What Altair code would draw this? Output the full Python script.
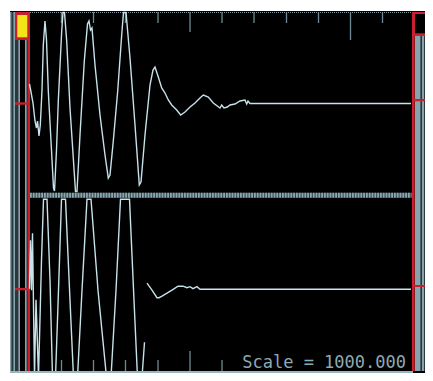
import altair as alt
import pandas as pd

# ---------------- data ----------------
# channel 1 (upper trace): time (ms after the left marker) and amplitude
TOP_T = [0.5, 2, 4, 6, 7.5, 8.5, 10, 11.3, 13, 14.3,
         16, 17.5, 19.3, 22, 24.5, 25.5, 27.5, 29.3, 32.7, 34,
         35.5, 37.7, 41, 44.3, 46.5, 48, 51, 55.3, 58.5, 60,
         61.5, 63, 66, 71, 76, 79.3, 81, 84.3, 88.7, 92.7,
         94.5, 97, 101, 106, 110.3, 112, 116, 121, 124, 126,
         129.3, 132.7, 136, 139.3, 142.7, 147.7, 151.7, 156, 161, 166,
         171, 174.3, 179.3, 184.3, 191, 192.7, 195, 198.3, 201, 206,
         211, 216, 217.7, 219, 221, 382]
TOP_A = [19.5, 11.5, 0.5, -17.5, -24.5, -17.5, -32.5, -21.5, 13.5, 58.5,
         82.5, 63.5, 12.5, -37.5, -84.5, -87.5, -46.5, 2.5, 72.5, 91,
         91, 62.5, -4.5, -54.5, -88, -88, -31.5, 42.5, 79.5, 82.5,
         73.5, 75.5, 38.5, -11.5, -51.5, -74.5, -71.5, -37.5, 12.5, 68.5,
         91, 91, 45.5, -21.5, -81.5, -78.5, -31.5, 18.5, 33.5, 36.5,
         26.5, 15.5, 10.5, 3.5, -1.5, -6.5, -11.5, -8.5, -3.5, 0.5,
         5.5, 8.5, 6.5, 0.5, -4.5, -1.5, -4.5, -3.5, -1.5, -0.5,
         2.5, 3.5, -0.5, 2.5, 0, 0]

# channel 2 (lower trace); segment 1 starts after a gap in the trace
BOT_T = [0.5, 1.5, 2.5, 3.5, 5.5, 7, 8, 9.5, 12.5, 14.5,
         18, 21, 23.5, 26.5, 29.5, 32.5, 36.5, 41, 44.5, 48.5,
         53, 58, 62, 69, 77.5, 82, 87, 91.5, 100.5, 105,
         108.5, 113, 115.5,
         118, 123, 128, 130, 133, 138, 143, 149, 154, 158,
         161, 164, 168, 171, 382]
BOT_A = [0, 48.5, -1.5, 55.5, -89, -11, -41, -88.5, 28.5, 89.5,
         89.5, 8.5, -88.5, -88.5, -1.5, 89.5, 89.5, -11.5, -88.5, -88.5,
         -1.5, 89.5, 89.5, -1.5, -88.5, -88.5, -1.5, 89.5, 89.5, -11.5,
         -88.5, -88.5, -53.5,
         5.5, -1.5, -9, -9, -7.5, -4.5, -1.5, 2.5, 2.5, 1,
         2, 0, 2, -0.5, -0.5]
BOT_SEG = [0] * 33 + [1] * 15

CH_BASE = {"ch1": 91.5, "ch2": -93.7}  # channel zero levels

TICK_T = [32.5, 64.5, 96.5, 129, 161, 193, 225, 257.5, 289.5, 321.5, 353.5]
TICK_LEN_TOP = [11, 11, 11, 11, 20, 11, 11, 11, 11, 28, 11]
TICK_LEN_BOT = [11, 11, 11, 11, 20, 11, 11, 11, 11, 20, 11]

SCALE_TEXT = "Scale = 1000.000"

# ---------------- colours ----------------
TRACE = "#c6e2ea"
LIGHT = "#86a3ad"
DARK = "#2a383e"
RED = "#c8202c"
YELLOW = "#f4e41a"
TICKC = "#6e8b95"
TEXTC = "#8fa9b2"

# ---------------- frame geometry (time / level units) ----------------
BOT = -176  # top of the bottom frame line
FRAME_RECTS = [
    # white border
    (-21, 396, 184, 187, "#ffffff"),
    (-21, -19, -178, 187, "#ffffff"),
    # left meter stripes
    (-19, -17.3, BOT, 183, LIGHT),
    (-17.3, -15.7, BOT, 183, DARK),
    (-15.7, -14, BOT, 183, LIGHT),
    (-14, -10.7, BOT, 183, DARK),
    (-10.7, -9, BOT, 183, LIGHT),
    (-4, -2.3, BOT, 183, LIGHT),
    # right meter stripes
    (386, 391.7, BOT, 159, LIGHT),
    (391.7, 393, BOT, 159, DARK),
    (393, 395, BOT, 159, LIGHT),
    (395, 396, BOT, 159, DARK),
    # red marker lines
    (-1.7, 1, BOT, 183, RED),
    (383, 385.7, BOT, 183, RED),
    # yellow cursor box
    (-14, 1, 155, 183, RED),
    (-11.7, -1.7, 157.7, 180, YELLOW),
    # right cursor box
    (383, 398.3, 159, 183, RED),
    (386, 396, 161.7, 181, "#000000"),
    # red level marks
    (-14, 1, 90.3, 92.7, RED),
    (-14, 1, -95.3, -93, RED),
    (383, 398.3, 93.7, 96, RED),
    (383, 398.3, -92, -90, RED),
    # separator base
    (1, 382.5, -2.7, 2.3, "#33444b"),
]
TEXT_BOX = [(211, 380, -176, -150, "#000000")]
BOTTOM_LINE = [(-19, 384, -178, -176, "#9bb5bd")]

xs = alt.Scale(domain=[-21, 396], nice=False, zero=False)
ys = alt.Scale(domain=[-178, 187], nice=False, zero=False)


def rect_layer(rects):
    df = pd.DataFrame(rects, columns=["x0", "x1", "y0", "y1", "c"])
    return alt.Chart(df).mark_rect().encode(
        x=alt.X("x0:Q", scale=xs, axis=None),
        x2="x1:Q",
        y=alt.Y("y0:Q", scale=ys, axis=None),
        y2="y1:Q",
        color=alt.Color("c:N", scale=None),
    )


# traces
rows = []
for i, (t, a) in enumerate(zip(TOP_T, TOP_A)):
    rows.append({"t": t, "level": CH_BASE["ch1"] + a, "seg": "ch1-0", "idx": i})
for i, (t, a, s) in enumerate(zip(BOT_T, BOT_A, BOT_SEG)):
    rows.append({"t": t, "level": CH_BASE["ch2"] + a, "seg": f"ch2-{s}", "idx": i})
trace_df = pd.DataFrame(rows)

traces = alt.Chart(trace_df).mark_line(
    color=TRACE, strokeWidth=1.4, interpolate="linear", clip=True
).encode(
    x=alt.X("t:Q", scale=xs, axis=None),
    y=alt.Y("level:Q", scale=ys, axis=None),
    detail="seg:N",
    order="idx:Q",
)

# graticule ticks
tick_rows = []
for t, ln in zip(TICK_T, TICK_LEN_TOP):
    tick_rows.append({"t": t, "y0": 183, "y1": 183 - ln})
for t, ln in zip(TICK_T, TICK_LEN_BOT):
    tick_rows.append({"t": t, "y0": BOT, "y1": BOT + ln})
ticks = alt.Chart(pd.DataFrame(tick_rows)).mark_rule(
    color=TICKC, strokeWidth=1.3
).encode(
    x=alt.X("t:Q", scale=xs, axis=None),
    y=alt.Y("y0:Q", scale=ys, axis=None),
    y2="y1:Q",
)

edge_df = pd.DataFrame({"t0": [1], "t1": [383], "lv": [182.5]})
top_edge = alt.Chart(edge_df).mark_rule(
    color="#8099a2", strokeWidth=1, strokeDash=[1, 1]
).encode(
    x=alt.X("t0:Q", scale=xs, axis=None),
    x2="t1:Q",
    y=alt.Y("lv:Q", scale=ys, axis=None),
)

sep_df = pd.DataFrame({"t0": [1], "t1": [382.5], "lv": [-0.2]})
separator = alt.Chart(sep_df).mark_rule(
    color="#8aa7b0", strokeWidth=5, strokeDash=[1.8, 1]
).encode(
    x=alt.X("t0:Q", scale=xs, axis=None),
    x2="t1:Q",
    y=alt.Y("lv:Q", scale=ys, axis=None),
)

text_df = pd.DataFrame({"t": [377], "lv": [-173], "label": [SCALE_TEXT]})
scale_text = alt.Chart(text_df).mark_text(
    align="right", baseline="alphabetic", font="DejaVu Sans Mono",
    fontSize=17, color=TEXTC
).encode(
    x=alt.X("t:Q", scale=xs, axis=None),
    y=alt.Y("lv:Q", scale=ys, axis=None),
    text="label:N",
)

chart = alt.layer(
    rect_layer(FRAME_RECTS),
    top_edge,
    separator,
    ticks,
    traces,
    rect_layer(TEXT_BOX),
    scale_text,
    rect_layer(BOTTOM_LINE),
).properties(
    width=417,
    height=365,
    padding=0,
    background="#000000",
    autosize=alt.AutoSizeParams(type="none"),
).configure_view(stroke=None)

chart.save("out.html", embed_options={"renderer": "svg", "actions": False})
